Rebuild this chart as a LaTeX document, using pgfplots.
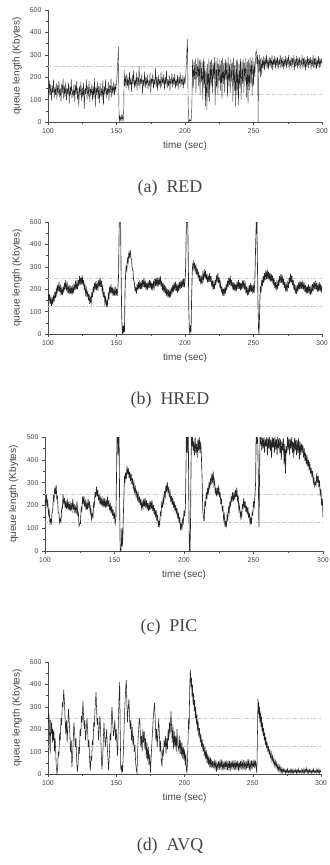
\documentclass[border=0pt]{standalone}
\usepackage{pgfplots}
\pgfplotsset{compat=1.18}
\usepackage{fontspec}
\setmainfont{Liberation Serif}
\newfontfamily\arial{Liberation Sans}
\definecolor{txt}{HTML}{444444}
\pgfplotsset{qstyle/.style={
 scale only axis,
 xmin=100, xmax=300, ymin=0, ymax=500,
 axis x line*=bottom, axis y line*=left,
 xtick={100,150,...,300}, ytick={0,100,...,500},
 minor x tick num=1, minor y tick num=1,
 tick align=outside, major tick length=3bp, minor tick length=1.6bp,
 tick label style={font=\arial\fontsize{7}{8}\selectfont, text=txt},
 xlabel={time (sec)}, ylabel={queue length (Kbytes)},
 label style={font=\arial\fontsize{10}{11}\selectfont, text=txt},
 ylabel style={at={(axis description cs:-0.113,0.5)}, anchor=center},
 xlabel style={at={(axis description cs:0.5,-0.214)}, anchor=center},
 axis line style={black!70, line width=0.5bp},
 tick style={black!70, line width=0.5bp},
 /pgf/number format/assume math mode=true,
 clip=true},
 thr/.style={gray!45, dash pattern=on 3bp off 1.5bp on 0.8bp off 1.5bp, line width=0.35bp, mark=none},
 q/.style={black!85, line width=0.5bp, mark=none}}
\begin{document}
\begin{tikzpicture}
\path[use as bounding box] (0,0) rectangle (330bp,-865bp);
% (a) RED
\begin{axis}[qstyle, at={(48bp,-10bp)}, anchor=north west, width=274bp, height=112bp]
\addplot[thr] coordinates {(100,250)(300,250)};
\addplot[thr] coordinates {(100,125)(300,125)};
\addplot[q, line width=0.4bp] coordinates {
(100,150)(100.5,110)(101,185)(101.5,120)(102,170)(102.5,95)(103,160)(103.5,130)(104,190)(104.5,105)
(105,155)(105.5,120)(106,175)(106.5,100)(107,165)(107.5,125)(108,185)(108.5,110)(109,150)(109.5,90)
(110,170)(110.5,130)(111,195)(111.5,100)(112,160)(112.5,115)(113,180)(113.5,95)(114,150)(114.5,125)
(115,175)(115.5,80)(116,160)(116.5,120)(117,190)(117.5,105)(118,145)(118.5,115)(119,170)(119.5,90)
(120,165)(120.5,125)(121,185)(121.5,100)(122,150)(122.5,70)(123,160)(123.5,120)(124,180)(124.5,95)
(125,155)(125.5,110)(126,175)(126.5,60)(127,150)(127.5,125)(128,190)(128.5,100)(129,160)(129.5,115)
(130,185)(130.5,90)(131,150)(131.5,120)(132,170)(132.5,95)(133,160)(133.5,110)(134,195)(134.5,65)
(135,155)(135.5,120)(136,180)(136.5,100)(137,160)(137.5,85)(138,175)(138.5,115)(139,150)(139.5,100)
(140,185)(140.5,75)(141,160)(141.5,125)(142,190)(142.5,105)(143,150)(143.5,120)(144,180)(144.5,95)
(145,165)(145.5,130)(146,195)(146.5,110)(147,160)(147.5,125)(148,180)(148.5,120)(149,170)(149.5,135)
(150,175)(150.5,220)(151,280)(151.4,335)(151.7,100)(152,0)(152.5,25)(153,8)(153.5,30)(154,5)(154.5,28)(155,10)(155.3,60)(155.6,230)
(156,160)(156.5,205)(157,150)(157.5,215)(158,160)(158.5,200)(159,140)(159.5,225)(160,165)(160.5,195)
(161,135)(161.5,210)(162,170)(162.5,230)(163,150)(163.5,190)(164,160)(164.5,220)(165,140)(165.5,200)
(166,165)(166.5,250)(167,150)(167.5,195)(168,170)(168.5,215)(169,125)(169.5,190)(170,160)(170.5,225)
(171,150)(171.5,200)(172,165)(172.5,210)(173,145)(173.5,185)(174,160)(174.5,220)(175,130)(175.5,195)
(176,170)(176.5,215)(177,150)(177.5,190)(178,165)(178.5,240)(179,155)(179.5,200)(180,140)(180.5,210)
(181,165)(181.5,190)(182,150)(182.5,225)(183,160)(183.5,195)(184,170)(184.5,215)(185,145)(185.5,200)
(186,165)(186.5,230)(187,150)(187.5,190)(188,160)(188.5,210)(189,140)(189.5,195)(190,170)(190.5,220)
(191,155)(191.5,200)(192,165)(192.5,215)(193,150)(193.5,190)(194,160)(194.5,210)(195,145)(195.5,200)
(196,170)(196.5,220)(197,155)(197.5,195)(198,165)(198.5,210)(199,150)(199.5,200)(200,170)(200.5,210)
(201,260)(201.5,340)(201.8,370)(202.2,120)(202.6,0)(203,12)(203.5,3)(204,10)(204.5,5)(205,70)(205.5,280)
(206,150)(206.5,270)(207,190)(207.5,285)(208,130)(208.5,260)(209,200)(209.5,290)(210,160)(210.5,275)
(211,120)(211.5,280)(212,180)(212.5,265)(213,100)(213.5,285)(214,150)(214.5,270)(215,70)(215.5,240)
(216,55)(216.5,260)(217,110)(217.5,285)(218,90)(218.5,270)(219,160)(219.5,280)(220,130)(220.5,265)
(221,190)(221.5,290)(222,75)(222.5,270)(223,150)(223.5,285)(224,120)(224.5,260)(225,180)(225.5,280)
(226,140)(226.5,275)(227,100)(227.5,285)(228,170)(228.5,265)(229,130)(229.5,280)(230,190)(230.5,270)
(231,110)(231.5,290)(232,160)(232.5,260)(233,130)(233.5,280)(234,180)(234.5,270)(235,90)(235.5,285)
(236,140)(236.5,265)(237,70)(237.5,275)(238,120)(238.5,280)(239,75)(239.5,260)(240,150)(240.5,285)
(241,100)(241.5,270)(242,170)(242.5,280)(243,130)(243.5,265)(244,180)(244.5,285)(245,110)(245.5,270)
(246,80)(246.5,280)(247,140)(247.5,290)(248,170)(248.5,275)(249,120)(249.5,285)(250,160)(250.5,270)
(251,200)(251.5,300)(252,320)(252.5,260)(253,300)(253.4,0)(253.7,280)(254,220)(254.5,300)(255,200)
(255.5,290)(256,210)(256.5,280)(257,240)(257.5,295)(258,230)(258.5,285)(259,250)(259.5,300)(260,240)
(260.5,280)(261,235)(261.5,290)(262,250)(262.5,285)(263,240)(263.5,300)(264,230)(264.5,280)(265,255)
(265.5,295)(266,240)(266.5,285)(267,250)(267.5,290)(268,235)(268.5,280)(269,255)(269.5,300)(270,240)
(270.5,285)(271,245)(271.5,290)(272,235)(272.5,280)(273,250)(273.5,295)(274,240)(274.5,285)(275,255)
(275.5,300)(276,235)(276.5,280)(277,250)(277.5,290)(278,240)(278.5,285)(279,255)(279.5,300)(280,230)
(280.5,280)(281,250)(281.5,295)(282,240)(282.5,285)(283,250)(283.5,290)(284,235)(284.5,280)(285,255)
(285.5,300)(286,240)(286.5,285)(287,245)(287.5,290)(288,230)(288.5,280)(289,250)(289.5,295)(290,240)
(290.5,285)(291,255)(291.5,290)(292,235)(292.5,280)(293,250)(293.5,300)(294,240)(294.5,285)(295,245)
(295.5,290)(296,235)(296.5,280)(297,250)(297.5,295)(298,240)(298.5,285)(299,255)(299.5,280)(300,260)};
\end{axis}
\node[font=\fontsize{18}{20}\selectfont, text=txt] at (170bp,-188bp) {(a)\ \ RED};
% (b) HRED
\begin{axis}[qstyle, at={(48bp,-222bp)}, anchor=north west, width=274bp, height=112bp]
\addplot[thr] coordinates {(100,250)(300,250)};
\addplot[thr] coordinates {(100,125)(300,125)};
\addplot[q, line width=0.65bp] coordinates {
(100,190)(100.5,150)(101,178)(101.5,135)(102,160)(102.5,125)(103,158)(103.5,132)(104,172)(104.5,145)
(105,188)(105.5,160)(106,200)(106.5,178)(107,218)(107.5,190)(108,232)(108.5,188)(109,212)(109.5,172)
(110,202)(110.5,175)(111,212)(111.5,185)(112,228)(112.5,198)(113,242)(113.5,200)(114,222)(114.5,182)
(115,208)(115.5,178)(116,218)(116.5,180)(117,212)(117.5,175)(118,208)(118.5,182)(119,222)(119.5,195)
(120,238)(120.5,198)(121,228)(121.5,200)(122,242)(122.5,215)(123,258)(123.5,220)(124,252)(124.5,222)
(125,262)(125.5,218)(126,242)(126.5,195)(127,218)(127.5,178)(128,202)(128.5,165)(129,192)(129.5,150)
(130,178)(130.5,135)(131,162)(131.5,140)(132,188)(132.5,165)(133,212)(133.5,185)(134,228)(134.5,198)
(135,238)(135.5,195)(136,222)(136.5,200)(137,242)(137.5,212)(138,252)(138.5,210)(139,238)(139.5,190)
(140,212)(140.5,165)(141,188)(141.5,140)(142,162)(142.5,120)(143,148)(143.5,130)(144,178)(144.5,160)
(145,212)(145.5,182)(146,222)(146.5,180)(147,208)(147.5,170)(148,202)(148.5,172)(149,212)(149.5,172)
(150,202)(150.5,170)(151,205)(151.5,260)(152,500)(152.5,500)(153,500)(153.3,300)(153.8,80)(154.3,0)
(154.7,35)(155,5)(155.4,40)(155.8,10)(156.2,180)(156.6,260)(157,300)(157.5,285)(158,335)(158.5,320)
(159,360)(159.5,345)(160,375)(160.5,340)(161,330)(161.5,290)(162,285)(162.5,240)(163,235)(163.5,195)
(164,205)(164.5,180)(165,222)(165.5,195)(166,232)(166.5,200)(167,238)(167.5,200)(168,228)(168.5,200)
(169,242)(169.5,210)(170,248)(170.5,208)(171,238)(171.5,198)(172,228)(172.5,195)(173,232)(173.5,205)
(174,242)(174.5,205)(175,238)(175.5,198)(176,228)(176.5,195)(177,232)(177.5,208)(178,248)(178.5,215)
(179,252)(179.5,212)(180,242)(180.5,212)(181,252)(181.5,220)(182,258)(182.5,212)(183,238)(183.5,195)
(184,228)(184.5,188)(185,218)(185.5,180)(186,212)(186.5,172)(187,202)(187.5,165)(188,198)(188.5,160)
(189,192)(189.5,165)(190,208)(190.5,178)(191,218)(191.5,188)(192,228)(192.5,195)(193,232)(193.5,192)
(194,222)(194.5,185)(195,218)(195.5,190)(196,232)(196.5,200)(197,238)(197.5,205)(198,242)(198.5,210)
(199,248)(199.5,208)(200,238)(200.5,300)(201,500)(201.5,500)(202,500)(202.4,330)(202.8,100)(203.2,20)
(203.6,0)(204,40)(204.4,10)(204.8,150)(205.2,260)(205.6,310)(206,322)(206.5,290)(207,318)(207.5,282)
(208,308)(208.5,265)(209,292)(209.5,250)(210,278)(210.5,235)(211,262)(211.5,222)(212,252)(212.5,225)
(213,268)(213.5,245)(214,288)(214.5,250)(215,282)(215.5,240)(216,268)(216.5,230)(217,262)(217.5,232)
(218,272)(218.5,232)(219,258)(219.5,212)(220,238)(220.5,198)(221,228)(221.5,200)(222,242)(222.5,218)
(223,262)(223.5,232)(224,272)(224.5,228)(225,252)(225.5,205)(226,228)(226.5,185)(227,212)(227.5,172)
(228,202)(228.5,170)(229,208)(229.5,180)(230,222)(230.5,195)(231,238)(231.5,210)(232,252)(232.5,220)
(233,258)(233.5,215)(234,242)(234.5,202)(235,232)(235.5,195)(236,228)(236.5,190)(237,222)(237.5,192)
(238,232)(238.5,202)(239,242)(239.5,200)(240,232)(240.5,195)(241,228)(241.5,198)(242,238)(242.5,205)
(243,242)(243.5,198)(244,222)(244.5,182)(245,212)(245.5,172)(246,202)(246.5,175)(247,218)(247.5,188)
(248,228)(248.5,188)(249,218)(249.5,180)(250,212)(250.5,185)(251,240)(251.5,380)(252,500)(252.5,500)
(252.9,300)(253.3,120)(253.7,20)(254,0)(254.4,80)(254.8,180)(255,215)(255.5,185)(256,242)(256.5,215)
(257,258)(257.5,228)(258,272)(258.5,240)(259,282)(259.5,245)(260,288)(260.5,245)(261,278)(261.5,240)
(262,272)(262.5,235)(263,268)(263.5,230)(264,262)(264.5,220)(265,248)(265.5,205)(266,232)(266.5,195)
(267,228)(267.5,200)(268,242)(268.5,215)(269,258)(269.5,228)(270,268)(270.5,230)(271,262)(271.5,220)
(272,248)(272.5,205)(273,232)(273.5,190)(274,218)(274.5,188)(275,228)(275.5,205)(276,252)(276.5,225)
(277,268)(277.5,230)(278,262)(278.5,218)(279,242)(279.5,198)(280,222)(280.5,180)(281,208)(281.5,178)
(282,218)(282.5,190)(283,232)(283.5,200)(284,238)(284.5,200)(285,232)(285.5,200)(286,238)(286.5,198)
(287,228)(287.5,188)(288,218)(288.5,180)(289,212)(289.5,182)(290,222)(290.5,182)(291,212)(291.5,175)
(292,208)(292.5,180)(293,222)(293.5,192)(294,232)(294.5,200)(295,238)(295.5,198)(296,228)(296.5,188)
(297,218)(297.5,190)(298,232)(298.5,192)(299,222)(299.5,185)(300,215)};
\end{axis}
\node[font=\fontsize{18}{20}\selectfont, text=txt] at (170bp,-400bp) {(b)\ \ HRED};
% (c) PIC
\begin{axis}[qstyle, at={(45bp,-437bp)}, anchor=north west, width=278bp, height=114bp]
\addplot[thr] coordinates {(100,250)(300,250)};
\addplot[thr] coordinates {(100,125)(300,125)};
\addplot[q, line width=0.65bp] coordinates {
(100,225)(100.5,200)(101,248)(101.5,198)(102,218)(102.5,162)(103,178)(103.5,125)(104,138)(104.5,115)
(105,168)(105.5,170)(106,238)(106.5,222)(107,278)(107.5,250)(108,290)(108.5,230)(109,238)(109.5,170)
(110,168)(110.5,125)(111,140)(111.5,130)(112,188)(112.5,185)(113,248)(113.5,205)(114,232)(114.5,188)
(115,212)(115.5,185)(116,228)(116.5,182)(117,208)(117.5,178)(118,218)(118.5,175)(119,202)(119.5,180)
(120,228)(120.5,182)(121,208)(121.5,165)(122,192)(122.5,170)(123,218)(123.5,160)(124,168)(124.5,110)
(125,120)(125.5,120)(126,188)(126.5,178)(127,238)(127.5,205)(128,242)(128.5,195)(129,218)(129.5,178)
(130,208)(130.5,182)(131,228)(131.5,188)(132,218)(132.5,168)(133,188)(133.5,140)(134,162)(134.5,150)
(135,208)(135.5,198)(136,258)(136.5,235)(137,282)(137.5,240)(138,268)(138.5,222)(139,248)(139.5,205)
(140,232)(140.5,200)(141,238)(141.5,195)(142,222)(142.5,192)(143,232)(143.5,190)(144,218)(144.5,192)
(145,238)(145.5,195)(146,222)(146.5,178)(147,202)(147.5,165)(148,198)(148.5,155)(149,182)(149.5,140)
(150,168)(150.5,120)(151,140)(151.4,300)(151.8,500)(152.3,500)(152.6,420)(152.9,500)(153.3,500)(153.7,200)
(154.1,0)(154.6,0)(155,40)(155.3,100)(155.6,20)(156,60)(156.3,140)(156.8,250)(157.2,330)(157.5,300)
(158,345)(158.5,315)(159,372)(159.5,335)(160,362)(160.5,320)(161,348)(161.5,308)(162,338)(162.5,292)
(163,318)(163.5,275)(164,298)(164.5,258)(165,278)(165.5,242)(166,268)(166.5,228)(167,252)(167.5,212)
(168,238)(168.5,200)(169,228)(169.5,188)(170,212)(170.5,188)(171,228)(171.5,195)(172,232)(172.5,190)
(173,222)(173.5,182)(174,212)(174.5,175)(175,208)(175.5,180)(176,218)(176.5,185)(177,222)(177.5,175)
(178,202)(178.5,160)(179,188)(179.5,148)(180,178)(180.5,132)(181,158)(181.5,105)(182,128)(182.5,112)
(183,168)(183.5,158)(184,218)(184.5,190)(185,232)(185.5,212)(186,262)(186.5,240)(187,288)(187.5,260)
(188,302)(188.5,255)(189,282)(189.5,235)(190,258)(190.5,215)(191,242)(191.5,202)(192,232)(192.5,190)
(193,218)(193.5,175)(194,202)(194.5,162)(195,188)(195.5,142)(196,168)(196.5,122)(197,148)(197.5,98)
(198,118)(198.5,92)(199,138)(199.5,125)(200,178)(200.5,152)(201,198)(201.4,350)(201.7,500)(202.1,500)
(202.4,430)(202.7,500)(203.1,500)(203.5,200)(203.9,0)(204.3,0)(204.7,120)(205.1,400)(205.4,500)(205.8,460)
(206.2,500)(206.6,440)(207,480)(207.5,420)(208,500)(208.5,430)(209,470)(209.5,410)(210,490)(210.5,440)
(211,500)(211.5,430)(212,480)(212.5,420)(213,320)(213.5,180)(214,150)(214.5,130)(215,218)(215.5,195)
(216,258)(216.5,228)(217,278)(217.5,250)(218,302)(218.5,270)(219,318)(219.5,290)(220,338)(220.5,300)
(221,348)(221.5,290)(222,308)(222.5,250)(223,272)(223.5,240)(224,278)(224.5,245)(225,288)(225.5,235)
(226,258)(226.5,205)(227,228)(227.5,175)(228,198)(228.5,140)(229,158)(229.5,105)(230,128)(230.5,110)
(231,158)(231.5,140)(232,188)(232.5,168)(233,218)(233.5,195)(234,242)(234.5,215)(235,258)(235.5,220)
(236,252)(236.5,225)(237,268)(237.5,238)(238,278)(238.5,222)(239,238)(239.5,180)(240,198)(240.5,148)
(241,168)(241.5,150)(242,208)(242.5,185)(243,232)(243.5,190)(244,218)(244.5,172)(245,198)(245.5,160)
(246,192)(246.5,145)(247,168)(247.5,120)(248,142)(248.5,118)(249,168)(249.5,160)(250,218)(250.5,195)
(251,238)(251.5,300)(251.9,500)(252.3,470)(252.7,500)(253.1,480)(253.5,300)(253.9,105)(254.3,300)(254.7,500)
(255,470)(255.5,500)(256,440)(256.5,495)(257,450)(257.5,500)(258,430)(258.5,490)(259,460)(259.5,500)
(260,420)(260.5,495)(261,450)(261.5,500)(262,440)(262.5,490)(263,410)(263.5,500)(264,455)(264.5,495)
(265,430)(265.5,500)(266,445)(266.5,490)(267,420)(267.5,500)(268,450)(268.5,495)(269,430)(269.5,490)
(270,400)(270.5,480)(271,440)(271.5,495)(272,380)(272.5,470)(273,340)(273.5,460)(274,430)(274.5,500)
(275,445)(275.5,495)(276,420)(276.5,490)(277,450)(277.5,500)(278,430)(278.5,480)(279,410)(279.5,495)
(280,440)(280.5,490)(281,420)(281.5,485)(282,430)(282.5,495)(283,400)(283.5,480)(284,420)(284.5,470)
(285,440)(285.5,465)(286,410)(286.5,450)(287,395)(287.5,430)(288,380)(288.5,420)(289,370)(289.5,400)
(290,355)(290.5,390)(291,340)(291.5,365)(292,325)(292.5,350)(293,300)(293.5,320)(294,285)(294.5,300)
(295,290)(295.5,340)(296,300)(296.5,330)(297,280)(297.5,310)(298,250)(298.5,270)(299,200)(299.5,230)(300,150)};
\end{axis}
\node[font=\fontsize{18}{20}\selectfont, text=txt] at (169bp,-627bp) {(c)\ \ PIC};
% (d) AVQ
\begin{axis}[qstyle, at={(48bp,-662bp)}, anchor=north west, width=273bp, height=112bp]
\addplot[thr] coordinates {(100,250)(300,250)};
\addplot[thr] coordinates {(100,125)(300,125)};
\addplot[q, line width=0.55bp] coordinates {
(100,300)(100.4,230)(100.8,270)(101.2,150)(101.6,90)(102,240)(102.4,180)(102.8,230)(103.2,140)(103.6,200)
(104,150)(104.4,190)(104.8,100)(105.2,160)(105.6,110)(106,40)(106.6,0)(107,20)(107.5,100)(108,80)
(108.5,180)(109,150)(109.5,250)(110,220)(110.5,320)(111,300)(111.5,375)(112,330)(112.5,250)(113,180)
(113.5,240)(114,140)(114.5,210)(115,290)(115.5,240)(116,180)(116.5,100)(117,150)(117.5,30)(118,80)
(118.5,150)(119,230)(119.5,190)(120,120)(120.5,160)(121,60)(121.5,10)(122,40)(122.5,120)(123,90)
(123.5,200)(124,170)(124.5,260)(125,230)(125.6,325)(126,270)(126.5,200)(127,240)(127.5,150)(128,190)
(128.5,250)(129,200)(129.5,120)(130,150)(130.5,60)(131,15)(131.5,80)(132,60)(132.5,150)(133,130)
(133.5,230)(134,210)(134.5,300)(135.2,365)(135.6,290)(136,220)(136.5,250)(137,150)(137.5,200)(138,260)
(138.5,200)(139,100)(139.5,20)(140,60)(140.5,150)(141,228)(141.5,170)(142,120)(142.5,160)(143,200)
(143.5,110)(144,60)(144.4,15)(145,90)(145.5,180)(146,150)(146.5,260)(146.9,300)(147.4,230)(148,170)
(148.5,200)(149,240)(149.5,150)(150,200)(150.5,130)(151,80)(151.5,220)(152,330)(152.5,410)(152.9,200)
(153.3,30)(153.7,12)(154.2,40)(154.6,10)(155,60)(155.5,150)(156,260)(156.5,330)(157,390)(157.4,420)
(157.8,320)(158.2,230)(158.6,280)(159.3,335)(159.7,260)(160.2,200)(160.7,240)(161.2,150)(161.7,210)(162.2,130)
(162.7,170)(163.2,100)(163.7,130)(164.2,50)(164.7,20)(165.2,4)(165.7,100)(166.2,180)(166.7,230)(167.2,250)
(167.6,190)(168,120)(168.5,170)(169,100)(169.5,200)(170,140)(170.5,190)(171,110)(171.5,160)(172,70)
(172.5,140)(173,60)(173.5,120)(174,40)(174.5,90)(175,4)(175.5,60)(176,130)(176.5,180)(177,240)
(177.5,280)(178.1,318)(178.6,230)(179,150)(179.5,200)(180,120)(180.5,180)(181.1,245)(181.6,180)(182,100)
(182.5,150)(183,60)(183.5,34)(184,110)(184.5,80)(185,150)(185.5,120)(186,170)(186.5,90)(187,160)
(187.5,110)(188,200)(188.5,150)(189,230)(189.5,180)(190.1,280)(190.6,200)(191,140)(191.5,220)(192,110)
(192.5,190)(193,120)(193.5,170)(194,100)(194.5,200)(195,130)(195.7,108)(196.2,170)(196.7,90)(197.2,150)
(197.7,80)(198.2,140)(198.7,70)(199.2,120)(199.7,60)(200.1,110)(200.6,40)(201,90)(201.4,20)(201.8,4)
(202.2,60)(202.6,150)(203,250)(203.4,200)(203.8,380)(204.3,467)(204.7,390)(205.1,430)(205.5,345)(205.9,400)
(206.3,310)(206.7,360)(207.1,280)(207.5,330)(207.9,250)(208.3,300)(208.7,220)(209.2,265)(209.6,190)(210,235)
(210.5,165)(211,205)(211.5,140)(212,180)(212.5,120)(213,155)(213.5,100)(214,135)(214.5,80)(215,120)
(215.5,65)(216,105)(216.5,50)(217,90)(217.5,40)(218,80)(218.5,30)(219,72)(219.5,25)(220,65)
(220.5,30)(221,60)(221.5,22)(222,55)(222.5,28)(223,62)(223.5,10)(224,50)(224.5,25)(225,58)
(225.5,20)(226,55)(226.5,30)(227,65)(227.5,15)(228,50)(228.5,25)(229,60)(229.5,20)(230,55)
(230.5,28)(231,62)(231.5,18)(232,50)(232.5,25)(233,58)(233.5,12)(234,55)(234.5,30)(235,60)
(235.5,20)(236,50)(236.5,25)(237,62)(237.5,18)(238,55)(238.5,28)(239,60)(239.5,15)(240,52)
(240.5,25)(241,58)(241.5,20)(242,55)(242.5,30)(243,62)(243.5,18)(244,50)(244.5,25)(245,60)
(245.5,22)(246,55)(246.5,28)(247,65)(247.5,15)(248,50)(248.5,25)(249,62)(249.5,20)(250,58)
(250.5,30)(251,65)(251.5,25)(252,60)(252.5,30)(253,4)(253.4,150)(253.8,338)(254.1,270)(254.4,320)
(254.7,250)(255,300)(255.3,230)(255.6,280)(256,210)(256.4,255)(256.8,190)(257.2,230)(257.6,170)(258,205)
(258.4,150)(258.8,185)(259.2,130)(259.6,165)(260,115)(260.5,145)(261,100)(261.5,125)(262,85)(262.5,110)
(263,70)(263.5,95)(264,58)(264.5,80)(265,48)(265.5,68)(266,38)(266.5,58)(267,30)(267.5,50)
(268,22)(268.5,42)(269,15)(269.5,35)(270,10)(270.5,30)(271,8)(271.5,25)(272,5)(272.5,22)
(273,10)(273.5,20)(274,3)(274.5,18)(275,6)(275.5,22)(276,4)(276.5,15)(277,8)(277.5,20)
(278,2)(278.5,18)(279,6)(279.5,22)(280,4)(280.5,16)(281,8)(281.5,20)(282,3)(282.5,18)
(283,7)(283.5,22)(284,4)(284.5,15)(285,8)(285.5,20)(286,2)(286.5,18)(287,6)(287.5,24)
(288,5)(288.5,20)(289,8)(289.5,26)(290,6)(290.5,18)(291,4)(291.5,20)(292,8)(292.5,16)
(293,3)(293.5,18)(294,7)(294.5,22)(295,4)(295.5,15)(296,8)(296.5,20)(297,3)(297.5,18)
(298,6)(298.5,22)(299,4)(299.5,16)(300,10)};
\end{axis}
\node[font=\fontsize{18}{20}\selectfont, text=txt] at (170bp,-846bp) {(d)\ \ AVQ};
\end{tikzpicture}
\end{document}
